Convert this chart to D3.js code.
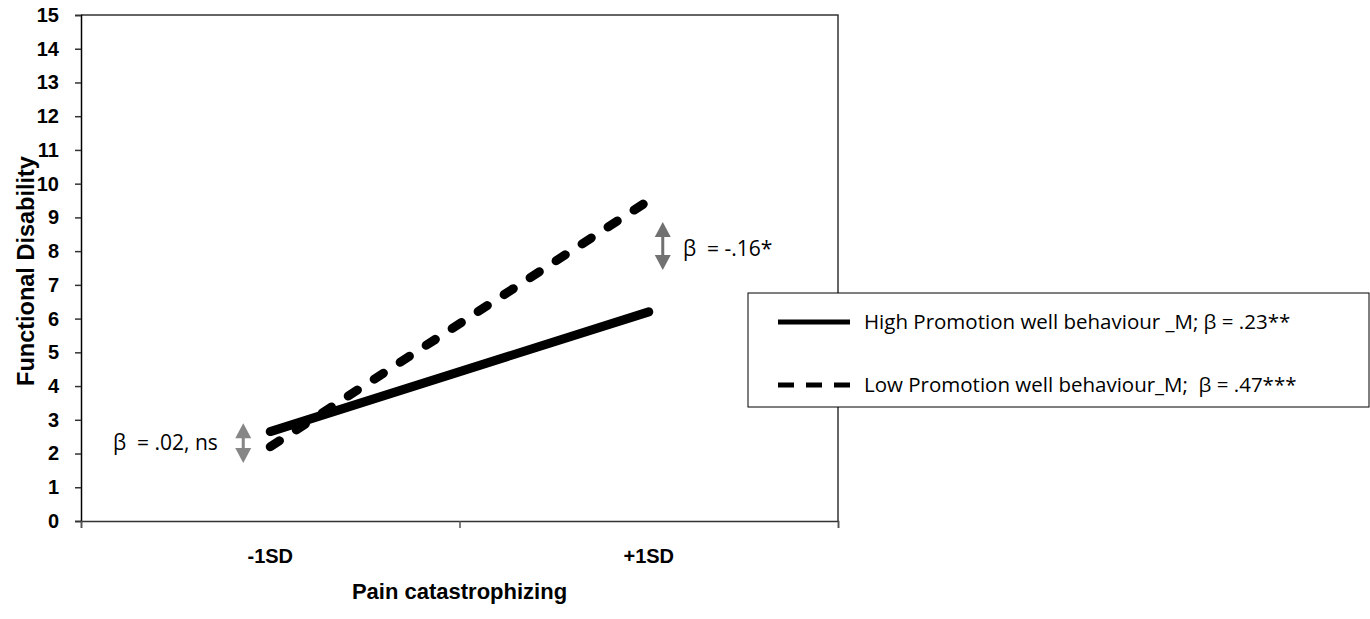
<!DOCTYPE html>
<html>
<head>
<meta charset="utf-8">
<script src="https://cdn.jsdelivr.net/npm/d3@7"></script>
<style>
  body { margin: 0; background: #fff; }
  .bold { font-family: "Liberation Sans", Arial, sans-serif; font-weight: bold; fill: #000; }
  .note { font-family: "Open Sans", "Noto Sans", sans-serif; fill: #000; }
</style>
</head>
<body>
<svg id="chart" width="1370" height="619"></svg>
<script>
// categories on the x axis
var categories = ["-1SD", "+1SD"];
// functional disability per group
var highValues = [2.65, 6.2];
var lowValues = [2.2, 9.5];
var seriesNames = ["High Promotion well behaviour _M; \u03B2 = .23**", "Low Promotion well behaviour_M;\u00A0 \u03B2 = .47***"];
var yTicks = [0, 1, 2, 3, 4, 5, 6, 7, 8, 9, 10, 11, 12, 13, 14, 15];
// simple slope annotations: category, arrow low / high value, text
var noteCats = ["-1SD", "+1SD"];
var noteLow = [1.72, 7.44];
var noteHigh = [2.9, 8.86];
var noteTexts = ["\u03B2\u00A0 = .02, ns", "\u03B2\u00A0 = -.16*"];

var svg = d3.select("#chart");
var plotLeft = 81, plotRight = 838, plotTop = 15, plotBottom = 521;

var x = d3.scaleBand().domain(categories).range([plotLeft, plotRight]);
var xEdge = d3.scaleLinear().domain([0, categories.length]).range([plotLeft, plotRight]);
var y = d3.scaleLinear().domain([0, 15]).range([plotBottom, plotTop]);

// plot frame (top + right)
svg.append("path")
    .attr("d", "M" + plotLeft + "," + plotTop + "H" + plotRight + "V" + plotBottom)
    .attr("fill", "none").attr("stroke", "#333").attr("stroke-width", 1.5);

// y axis
var yAxis = svg.append("g")
    .attr("transform", "translate(" + plotLeft + ",0)")
    .call(d3.axisLeft(y).tickValues(yTicks).tickSize(6).tickPadding(16));
yAxis.select(".domain").attr("stroke", "#000").attr("stroke-width", 1.5);
yAxis.selectAll(".tick line").attr("stroke", "#333").attr("stroke-width", 1.5);
yAxis.selectAll(".tick text").attr("class", "bold").style("font-size", "20px");

// x axis ticks between categories
var xTickAxis = svg.append("g")
    .attr("transform", "translate(0," + plotBottom + ")")
    .call(d3.axisBottom(xEdge).tickValues(d3.range(0, categories.length + 1)).tickSize(7).tickFormat(""));
xTickAxis.select(".domain").attr("stroke", "#333").attr("stroke-width", 1.5);
xTickAxis.selectAll(".tick line").attr("stroke", "#555").attr("stroke-width", 1.5);

// category labels
var xLab = svg.append("g")
    .attr("transform", "translate(0," + plotBottom + ")")
    .call(d3.axisBottom(x).tickSize(0).tickPadding(28));
xLab.select(".domain").remove();
xLab.selectAll(".tick text").attr("class", "bold").style("font-size", "20px");

// axis titles
svg.append("text").attr("class", "bold")
    .attr("x", (plotLeft + plotRight) / 2).attr("y", 599)
    .attr("text-anchor", "middle").style("font-size", "22px")
    .text("Pain catastrophizing");
svg.append("text").attr("class", "bold")
    .attr("transform", "translate(34,271) rotate(-90)")
    .attr("text-anchor", "middle").style("font-size", "23.5px")
    .text("Functional Disability");

// lines
var line = d3.line()
    .x(function (d, i) { return x(categories[i]) + x.bandwidth() / 2; })
    .y(function (d) { return y(d); });

svg.append("path").datum(highValues)
    .attr("d", line).attr("fill", "none")
    .attr("stroke", "#000").attr("stroke-width", 9).attr("stroke-linecap", "round");
svg.append("path").datum(lowValues)
    .attr("d", line).attr("fill", "none")
    .attr("stroke", "#000").attr("stroke-width", 9).attr("stroke-linecap", "round")
    .attr("stroke-dasharray", "11,20");

// double arrows
var arrowX = [-27, 14];
noteCats.forEach(function (c, i) {
    var cx = x(c) + x.bandwidth() / 2 + arrowX[i];
    var y1 = y(noteHigh[i]), y2 = y(noteLow[i]);
    var g = svg.append("g").attr("fill", "#717171").attr("opacity", i == 0 ? 0.85 : 1);
    g.append("rect").attr("x", cx - 1.5).attr("y", y1 + 10).attr("width", 3).attr("height", y2 - y1 - 20);
    g.append("path").attr("d", "M" + cx + "," + y1 + "L" + (cx + 8) + "," + (y1 + 15) + "L" + (cx - 8) + "," + (y1 + 15) + "Z");
    g.append("path").attr("d", "M" + cx + "," + y2 + "L" + (cx + 8) + "," + (y2 - 15) + "L" + (cx - 8) + "," + (y2 - 15) + "Z");
});

svg.append("text").attr("class", "note")
    .attr("x", 113).attr("y", 450).style("font-size", "21px")
    .text(noteTexts[0]);
svg.append("text").attr("class", "note")
    .attr("x", 683).attr("y", 256).style("font-size", "21px")
    .text(noteTexts[1]);

// legend
var leg = svg.append("g");
leg.append("rect").attr("x", 748).attr("y", 293).attr("width", 621).attr("height", 114)
    .attr("fill", "#fff").attr("stroke", "#000").attr("stroke-width", 1);
var legY = [322, 385];
seriesNames.forEach(function (name, i) {
    leg.append("line").attr("x1", 778).attr("x2", 850).attr("y1", legY[i]).attr("y2", legY[i])
        .attr("stroke", "#000").attr("stroke-width", 5)
        .attr("stroke-dasharray", i == 1 ? "16,12" : null);
    leg.append("text").attr("class", "note")
        .attr("x", 864).attr("y", legY[i] + 7).style("font-size", "20.5px")
        .text(name);
});
</script>
</body>
</html>
